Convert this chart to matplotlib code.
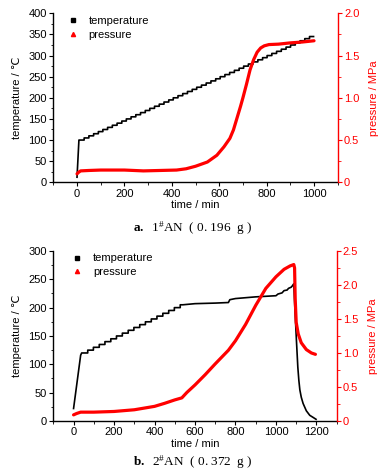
import matplotlib
matplotlib.use('Agg')
import matplotlib.pyplot as plt
from matplotlib.lines import Line2D
from matplotlib.ticker import MultipleLocator, FixedLocator, FixedFormatter

plt.rcParams['font.family'] = ['Liberation Sans', 'DejaVu Sans']
plt.rcParams['mathtext.fontset'] = 'custom'
plt.rcParams['mathtext.rm'] = 'Liberation Serif'
plt.rcParams['mathtext.bf'] = 'Liberation Serif:bold'
plt.rcParams['mathtext.it'] = 'Liberation Serif:italic'

# ---------------- data: panel a (1#AN) ----------------
a_temp_head_t = [0, 8]
a_temp_head = [12, 100]
a_step_t = [10, 30, 50, 70, 90, 109, 129, 149, 169, 189, 208, 228, 248, 268, 288,
            307, 327, 347, 367, 387, 406, 426, 446, 466, 486, 505, 525, 545, 565, 585,
            604, 624, 644, 664, 684, 703, 723, 743, 763, 783, 802, 822, 842, 862, 882,
            901, 921, 941, 961, 981]
a_step_T = [100, 105, 110, 115, 120, 125, 130, 135, 140, 145, 150, 155, 160, 165, 170,
            175, 180, 185, 190, 195, 200, 205, 210, 215, 220, 225, 230, 235, 240, 245,
            250, 255, 260, 265, 270, 275, 280, 285, 290, 295, 300, 305, 310, 315, 320,
            325, 330, 335, 340, 345]
a_temp_end_t = 998

a_p_t = [0, 5, 15, 50, 100, 200, 280, 350, 420, 460, 500, 550, 590, 620, 645, 660, 675,
         690, 700, 715, 730, 745, 760, 775, 790, 810, 850, 900, 950, 1000]
a_p = [0.10, 0.115, 0.135, 0.14, 0.145, 0.145, 0.135, 0.14, 0.145, 0.16, 0.19, 0.24,
       0.32, 0.42, 0.52, 0.62, 0.76, 0.90, 1.00, 1.16, 1.33, 1.45, 1.54, 1.59, 1.615,
       1.63, 1.635, 1.65, 1.66, 1.675]

# ---------------- data: panel b (2#AN) ----------------
b_temp_head_t = [0, 35]
b_temp_head = [22, 116]
b_step_t = [40, 70, 98, 127, 155, 184, 212, 241, 270, 298, 327, 355, 384, 412, 441,
            470, 498, 527]
b_step_T = [120, 125, 130, 135, 140, 145, 150, 155, 160, 165, 170, 175, 180, 185, 190,
            195, 200, 205]
b_temp_tail_t = [540, 600, 700, 765, 772, 800, 900, 1000, 1010, 1030, 1040, 1055, 1062,
                 1075, 1080, 1088, 1092, 1096, 1101, 1108, 1113, 1118, 1125, 1134, 1150,
                 1167, 1185, 1198]
b_temp_tail = [205, 207, 208, 209, 214, 216, 219, 221, 224, 226, 230, 231, 234, 236, 238,
               242, 210, 180, 143, 95, 72, 55, 42, 31, 18, 10, 6, 3]

b_p_t = [0, 15, 35, 100, 200, 300, 400, 450, 500, 535, 560, 600, 650, 700, 765, 800, 850,
         900, 950, 1000, 1040, 1070, 1088, 1092, 1095, 1100, 1110, 1125, 1150, 1175, 1195]
b_p = [0.09, 0.11, 0.13, 0.13, 0.14, 0.165, 0.215, 0.26, 0.31, 0.34, 0.42, 0.53, 0.68,
       0.84, 1.04, 1.18, 1.42, 1.70, 1.95, 2.12, 2.23, 2.28, 2.30, 2.25, 1.80, 1.45,
       1.28, 1.15, 1.05, 1.00, 0.98]

legend_labels = ['temperature', 'pressure']
xlabel = 'time / min'
ylabel_left = 'temperature / ℃'
ylabel_right = 'pressure / MPa'
caption_a = r'$\mathbf{a.}$  1$^{\#}$AN  ( 0. 196  g )'
caption_b = r'$\mathbf{b.}$  2$^{\#}$AN  ( 0. 372  g )'


def staircase(head_t, head_v, step_t, step_v, end_t):
    xs = list(head_t)
    ys = list(head_v)
    for i in range(len(step_t)):
        t_next = step_t[i + 1] if i + 1 < len(step_t) else end_t
        xs += [step_t[i], t_next]
        ys += [step_v[i], step_v[i]]
    return xs, ys


RED = '#ff0000'
FS = 8

fig = plt.figure(figsize=(3.85, 4.75), dpi=100)


def style_axes(ax, ax2, xlim, xmaj, xmin, ylim, ymaj, ymin, plim, pticks, plabels, pmin):
    ax.set_xlim(*xlim)
    ax.set_ylim(*ylim)
    ax2.set_ylim(*plim)
    ax.xaxis.set_major_locator(MultipleLocator(xmaj))
    ax.xaxis.set_minor_locator(MultipleLocator(xmin))
    ax.yaxis.set_major_locator(MultipleLocator(ymaj))
    ax.yaxis.set_minor_locator(MultipleLocator(ymin))
    ax2.yaxis.set_major_locator(FixedLocator(pticks))
    ax2.yaxis.set_major_formatter(FixedFormatter(plabels))
    ax2.yaxis.set_minor_locator(MultipleLocator(pmin))
    for a in (ax, ax2):
        a.spines['top'].set_visible(False)
    ax.spines['right'].set_visible(False)
    ax2.spines['left'].set_visible(False)
    ax2.spines['bottom'].set_visible(False)
    ax2.spines['right'].set_color(RED)
    ax2.spines['right'].set_linewidth(1.0)
    ax.spines['left'].set_linewidth(1.0)
    ax.spines['bottom'].set_linewidth(1.0)
    ax.tick_params(which='major', direction='out', length=3, width=0.8, labelsize=FS, pad=1.5)
    ax.tick_params(which='minor', direction='out', length=1.8, width=0.6)
    ax.tick_params(axis='y', which='both', right=False)
    ax.tick_params(axis='x', which='both', top=False)
    ax2.tick_params(which='major', direction='out', length=3, width=0.8, labelsize=FS,
                    pad=1.5, colors=RED)
    ax2.tick_params(which='minor', direction='out', length=1.8, width=0.6, colors=RED)
    ax.set_xlabel(xlabel, fontsize=FS, labelpad=1)
    ax.set_ylabel(ylabel_left, fontsize=FS, labelpad=5)
    ax2.set_ylabel(ylabel_right, fontsize=FS, color=RED, labelpad=7)


def legend(ax, anchor):
    handles = [Line2D([], [], ls='none', marker='s', ms=2.6, color='black'),
               Line2D([], [], ls='none', marker='^', ms=3.0, color=RED)]
    ax.legend(handles, legend_labels, loc='upper left', bbox_to_anchor=anchor,
              frameon=False, fontsize=FS, handlelength=1.0, handletextpad=0.9,
              borderaxespad=0, borderpad=0, labelspacing=0.35)


# ---------- panel a ----------
axA = fig.add_axes([0.1385, 0.6162, 0.7387, 0.3558])
axA2 = axA.twinx()
xa, ya = staircase(a_temp_head_t, a_temp_head, a_step_t, a_step_T, a_temp_end_t)
axA.plot(xa, ya, color='black', lw=1.2)
axA2.plot(a_p_t, a_p, color=RED, lw=2.3, solid_capstyle='round', solid_joinstyle='round')
style_axes(axA, axA2, (-100, 1100), 200, 100, (0, 400), 50, 25,
           (0, 2.0), [0, 0.5, 1.0, 1.5, 2.0], ['0', '0.5', '1.0', '1.5', '2.0'], 0.25)
legend(axA2, (0.05, 0.985))
fig.text(0.5, 1 - 228 / 475, caption_a, ha='center', va='center', fontsize=9.5,
         family='Liberation Serif')

# ---------- panel b ----------
axB = fig.add_axes([0.1385, 0.1137, 0.736, 0.358])
axB2 = axB.twinx()
xb, yb = staircase(b_temp_head_t, b_temp_head, b_step_t, b_step_T, b_temp_tail_t[0])
xb += b_temp_tail_t
yb += b_temp_tail
axB.plot(xb, yb, color='black', lw=1.2)
axB2.plot(b_p_t, b_p, color=RED, lw=2.3, solid_capstyle='round', solid_joinstyle='round')
style_axes(axB, axB2, (-100, 1300), 200, 100, (0, 300), 50, 25,
           (0, 2.5), [0, 0.5, 1.0, 1.5, 2.0, 2.5], ['0', '0.5', '1.0', '1.5', '2.0', '2.5'], 0.25)
legend(axB2, (0.065, 0.985))
fig.text(0.5, 1 - 462 / 475, caption_b, ha='center', va='center', fontsize=9.5,
         family='Liberation Serif')

fig.savefig('out.png', dpi=100, facecolor='white')
